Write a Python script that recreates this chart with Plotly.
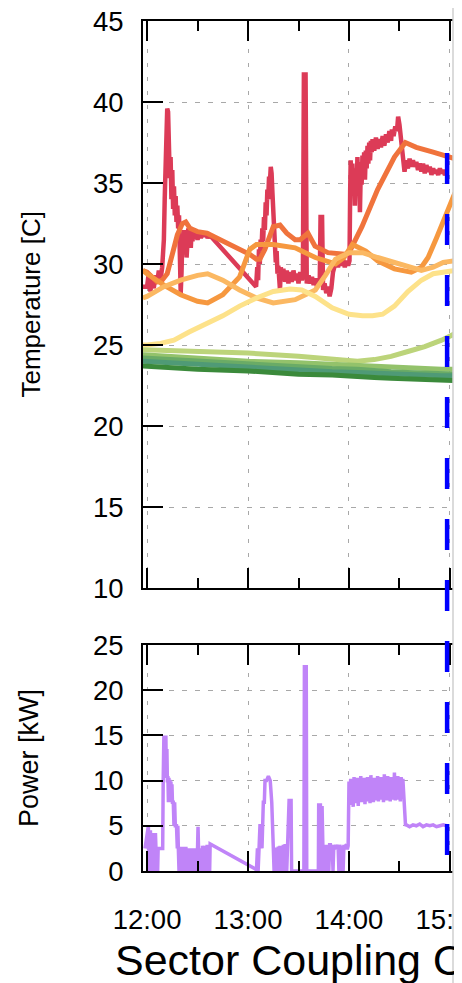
import pandas as pd
import plotly.graph_objects as go

BASE = pd.Timestamp("2021-06-01 12:00:00")

# ---------------- data (minutes after 12:00, values) ----------------
red_min = [-2.5, 0, 1, 2, 3, 4, 5, 6, 7, 8, 9, 10, 10.5, 11, 11.5, 12, 12.5, 13, 13.5, 14, 14.5, 15, 15.5,
           16, 16.5, 17, 17.5, 18, 18.5, 19, 19.5, 20, 20.5, 21, 21.5, 22, 22.5, 23, 23.5, 24, 24.5, 25,
           25.5, 26, 26.5, 27, 27.5, 28, 29, 30, 31, 32, 33, 34, 35, 36, 37, 38, 64.8,
           65.5, 66, 66.5, 67, 67.5, 68, 68.5, 69, 69.5, 70, 70.5, 71, 71.5, 72, 72.5, 73, 73.5, 74, 74.5,
           75, 75.5, 76, 76.5, 77, 77.5, 78, 78.5, 79, 79.5, 80, 81, 82, 83, 84, 85, 86, 87, 88, 89, 90,
           91, 92, 92.6, 93.2, 94.2, 94.9, 96, 97, 98, 99, 100, 101, 102, 102.6, 103.1, 104.0, 104.6, 105.5,
           106.5, 107.5, 108.5, 109.5, 110.5, 111.5, 112.5, 113.5, 114.5, 115.5, 116.5, 117.5, 118.5,
           119.5, 120.3, 120.7, 121, 121.5, 122, 122.5, 123, 123.5, 124, 124.5, 125, 125.5, 126, 126.5,
           127, 127.5, 128, 128.5, 129, 129.5, 130, 130.5, 131, 131.5, 132, 132.5, 133, 133.5, 134, 135,
           136, 137, 138, 139, 140, 141, 142, 143, 144, 145, 145.5, 146.5, 147.5, 148.5, 149.2, 150,
           150.8, 151.5, 152.3, 153, 154, 155, 156, 157, 158, 159, 160, 161, 162, 163, 164, 165, 166,
           167, 168, 169, 170, 171, 172, 173, 174, 175, 176, 177, 178]
red_val = [28.6, 28.6, 29.4, 28.3, 29.1, 28.5, 29.3, 28.8, 29.6, 29.0, 29.8, 31.5, 34.0, 36.8, 38.5, 39.6,
           39.4, 37.2, 35.3, 36.6, 34.0, 35.8, 33.4, 34.8, 33.0, 34.2, 32.6, 33.6, 32.2, 33.0, 30.5, 28.2,
           29.5, 31.8, 30.6, 32.1, 31.0, 31.9, 30.4, 31.6, 32.2, 31.2, 32.3, 31.0, 32.1, 31.4, 32.2, 31.6,
           32.0, 31.5, 31.9, 31.6, 31.9, 31.7, 31.9, 31.6, 31.8, 31.7, 28.6,
           29.8, 29.0, 30.9, 30.0, 31.5, 30.8, 32.2, 31.4, 32.9, 32.1, 33.8, 33.0, 34.6, 34.0, 35.4, 35.0,
           36.0, 35.6, 34.4, 33.2, 32.9, 31.2, 30.1, 30.8, 29.4, 29.9, 28.6, 28.4, 29.8, 29.0, 29.7, 28.9,
           29.6, 28.8, 29.5, 28.9, 29.6, 29.0, 29.4, 28.8, 29.5, 29.0, 29.2, 41.7, 41.7, 28.8, 29.3, 28.8,
           29.2, 28.7, 29.1, 28.6, 29.0, 28.7, 32.9, 32.9, 28.4, 28.8, 28.2, 28.6, 28.0, 28.5, 29.5, 29.9,
           30.3, 29.8, 30.4, 29.9, 30.3, 29.8, 30.2, 29.9, 30.2, 34.5, 36.4, 34.2, 36.2, 34.8, 35.9, 33.6,
           35.7, 34.4, 36.6, 35.0, 36.3, 33.2, 35.8, 34.9, 36.7, 35.5, 36.9, 35.2, 37.0, 35.9, 37.3, 36.2,
           37.5, 36.4, 37.6, 36.9, 37.7, 37.0, 37.8, 37.1, 37.7, 37.2, 37.9, 37.3, 38.0, 37.5, 38.2, 37.6,
           38.3, 37.9, 38.5, 38.2, 39.1, 38.6, 37.7, 37.0, 35.8, 35.7, 36.4, 35.9, 36.5, 36.0, 36.4, 36.0,
           36.3, 35.8, 36.2, 35.7, 36.2, 35.6, 36.1, 35.7, 36.0, 35.5, 35.9, 35.6, 35.8, 35.5, 35.9, 35.6,
           35.8, 35.5, 35.7]

orange_dark_min = [-2.5, 0, 3, 6, 9, 12, 15, 18, 21, 23, 25.5, 30, 35.6, 45, 55, 61, 65, 67, 70, 73, 75, 79,
                   83, 88, 91, 95.6, 99.8, 107.5, 117.6, 120, 127.7, 137, 147, 153.5, 160, 170, 183]
orange_dark_val = [29.6, 29.5, 29.2, 28.9, 29.0, 29.4, 30.6, 31.8, 32.5, 32.6, 32.2, 32.0, 31.9, 31.4, 30.9,
                   30.6, 30.3, 30.3, 30.9, 31.7, 32.3, 32.4, 31.9, 31.5, 31.5, 31.9, 31.1, 30.7, 30.6, 30.7,
                   32.3, 34.6, 36.6, 37.5, 37.2, 36.9, 36.5]

orange_mid_min = [-2.5, 0, 10, 20, 30, 36, 45, 55, 61, 65, 75, 88, 100, 112, 117, 122, 130, 137, 147, 157,
                  163, 167, 172, 177, 183]
orange_mid_val = [29.6, 29.4, 28.7, 28.1, 27.7, 27.6, 28.1, 29.2, 30.9, 31.2, 31.2, 31.0, 30.4, 30.0, 30.4,
                  31.2, 30.8, 30.2, 29.7, 29.5, 29.8, 30.4, 31.6, 32.9, 34.4]

orange_light_min = [-2.5, 0, 10, 20, 30, 36, 45, 55, 65, 75, 88, 100, 106, 112, 120, 128, 137, 147, 155,
                    163, 170, 176, 183]
orange_light_val = [27.9, 28.0, 28.6, 29.0, 29.3, 29.4, 29.0, 28.4, 27.9, 27.6, 27.8, 28.4, 29.3, 30.3, 30.7,
                    30.7, 30.4, 30.1, 29.8, 29.6, 29.8, 30.1, 30.2]

yellow_min = [-2.5, 0, 8, 16, 25, 35, 45, 55, 65, 75, 85, 92, 100, 110, 120, 128, 134, 140, 147, 155, 163,
              170, 177, 183]
yellow_val = [25.0, 25.0, 25.1, 25.3, 25.8, 26.3, 26.8, 27.4, 27.9, 28.3, 28.45, 28.4, 28.0, 27.3, 26.9, 26.8,
              26.8, 26.9, 27.4, 28.3, 29.0, 29.4, 29.55, 29.6]

green_min = [-2.5, 30, 60, 90, 110, 125, 135, 145, 155, 165, 175, 183]
green1_val = [24.7, 24.6, 24.5, 24.3, 24.1, 24.0, 24.1, 24.3, 24.6, 24.9, 25.3, 25.7]
green2_val = [24.4, 24.2, 24.0, 23.9, 23.8, 23.7, 23.65, 23.6, 23.6, 23.55, 23.5, 23.5]
green3_val = [24.2, 24.0, 23.8, 23.6, 23.55, 23.5, 23.4, 23.35, 23.3, 23.25, 23.2, 23.2]
green4_val = [24.0, 23.8, 23.6, 23.4, 23.35, 23.3, 23.25, 23.2, 23.2, 23.15, 23.1, 23.1]
green5_val = [23.7, 23.5, 23.4, 23.2, 23.15, 23.1, 23.0, 22.95, 22.9, 22.85, 22.8, 22.8]

power_min = [-1.2, 0.4, 0.8, 1.0, 1.3, 1.8, 2.0, 2.3, 2.6, 2.9, 3.4, 3.7, 4.0, 4.3, 4.6, 5.0, 5.3, 6.0, 6.3,
             6.6, 7.5, 8.5, 9.3, 9.6, 10.0, 11.2, 11.5, 11.8, 12.1, 12.4, 12.7, 13.0, 13.3, 13.6, 13.9,
             14.2, 14.5, 14.8, 15.1, 15.6, 16.0, 16.4, 16.8, 17.5, 18.0, 18.3, 18.6, 19.0, 19.3, 19.8,
             20.1, 20.4, 21.0, 21.3, 21.6, 22.2, 22.5, 23.1, 23.4, 23.7, 24.3, 24.6, 25.2, 25.5, 26.1,
             26.4, 27.0, 27.3, 27.9, 28.2, 28.8, 29.1, 29.7, 30.0, 30.3, 30.6, 30.9, 31.2, 31.8, 32.1,
             32.7, 33.0, 33.6, 33.9, 34.5, 34.8, 35.4, 35.7, 36.3, 36.6, 37.2, 37.5, 64.6,
             65.0, 65.6, 66.0, 66.6, 67.1, 67.8, 68.3, 69.1, 69.7, 70.1, 71.0, 72.1, 73.2, 74.1, 74.6,
             75.0, 75.5, 76.0, 76.5, 77.0, 77.5, 78.0, 78.5, 79.0, 79.5, 80.0, 80.5, 81.0, 81.5, 82.0,
             82.5, 83.0, 83.5, 84.0, 84.4, 85.6, 85.9, 93.2, 93.5, 94.6, 94.9, 101.8, 102.0, 102.5, 103.0,
             103.5, 104.0, 104.5, 105.0, 105.5, 106.0, 106.5, 107.0, 107.5, 108.0, 108.5, 109.0, 109.5,
             110.0, 110.5, 111.0, 111.5, 112.0, 112.5, 113.0, 113.5, 114.0, 114.5, 115.0, 115.5, 116.0,
             116.5, 117.0, 117.5, 118.0, 118.5, 119.0, 119.5, 120.0]
power_val = [2.5, 5.0, 5.0, 0.0, 2.5, 2.5, 4.5, 2.5, 0.0, 2.5, 2.5, 4.2, 2.5, 0.0, 2.5, 4.2, 2.5, 2.5, 0.0,
             2.5, 2.5, 2.5, 2.5, 10.0, 14.8, 14.8, 10.3, 13.5, 9.8, 10.5, 7.6, 10.3, 7.8, 10.1, 7.6,
             9.9, 7.6, 9.6, 7.6, 7.6, 5.0, 7.6, 5.0, 5.0, 2.5, 5.0, 2.5, 0.0, 2.5, 2.5,
             0.0, 2.5, 2.5, 0.0, 2.5, 0.0, 2.5, 2.5, 0.0, 2.5, 0.0, 2.5, 0.0, 2.5, 0.0,
             2.5, 0.0, 2.5, 0.0, 2.5, 0.0, 2.5, 0.0, 2.5, 4.9, 2.5, 0.0, 2.5, 0.0, 2.5,
             0.0, 2.8, 0.0, 2.8, 0.0, 2.8, 0.0, 2.9, 0.0, 2.9, 0.0, 3.0, 0.2,
             0.0, 2.5, 0.0, 2.5, 5.0, 5.0, 2.5, 7.6, 7.6, 10.0, 10.0, 10.5, 10.0, 7.6, 5.0,
             5.0, 0.0, 2.5, 0.0, 2.6, 0.0, 2.7, 0.0, 2.8, 0.0, 2.8, 0.0, 2.9, 0.0, 2.8,
             2.8, 0.0, 2.9, 2.9, 7.8, 7.8, 0.0, 0.0, 22.6, 22.6, 0.0, 0.0, 7.5, 2.5, 7.5,
             0.0, 7.2, 2.5, 0.0, 2.9, 0.0, 2.9, 0.0, 2.8, 0.0, 2.9, 2.9, 2.4,
             2.9, 0.0, 2.9, 2.5, 2.9, 2.4, 2.8, 2.9, 0.0, 2.9, 2.5, 0.0,
             2.8, 0.0, 2.9, 2.4, 2.8, 2.9, 2.4, 2.8]

# noisy 14:00-14:33 band (upper / lower swings, one pair every minute from 120.5)
band_top = [9.9, 10.2, 10.0, 10.4, 9.8, 10.3, 10.1, 10.5, 10.0, 10.3, 9.9, 10.4, 10.2, 10.6, 10.0, 10.3, 10.1,
            10.5, 10.2, 10.4, 10.0, 10.7, 10.3, 10.5, 10.1, 10.4, 10.2, 10.9, 10.3, 10.5, 10.1, 10.4, 10.2]
band_bot = [7.3, 7.8, 7.1, 7.9, 7.5, 7.2, 7.8, 7.6, 8.0, 7.4, 7.7, 7.9, 7.5, 8.1, 7.6, 7.8, 8.0, 7.7, 8.2,
            7.9, 7.6, 8.0, 7.8, 8.1, 7.7, 7.9, 8.0, 7.8, 8.2, 7.9, 7.7, 8.0, 7.9]
tail_min = [153.1, 153.6, 154.2, 156, 158, 160, 162, 164, 166, 168, 170, 172, 174, 176, 178, 179]
tail_val = [7.6, 6.5, 5.0, 5.1, 4.9, 5.1, 5.0, 5.2, 4.9, 5.1, 5.0, 5.1, 4.9, 5.0, 5.1, 5.0]

marker_min = 178.3  # blue dashed vertical marker

# ---------------- build ----------------
def tt(mins):
    return [BASE + pd.Timedelta(minutes=m) for m in mins]

band_min, band_val = [], []
for i, (a, b) in enumerate(zip(band_top, band_bot)):
    band_min += [120.5 + i, 121.0 + i]
    band_val += [a, b]

p_min = power_min + band_min + tail_min
p_val = power_val + band_val + tail_val

FONT = "Liberation Sans, Arial, sans-serif"
fig = go.Figure()

temps = [
    ("red", "#dc3b57", red_min, red_val, 4.5),
    ("orange_dark", "#f0733c", orange_dark_min, orange_dark_val, 5),
    ("orange_mid", "#f6983f", orange_mid_min, orange_mid_val, 5),
    ("orange_light", "#fbb862", orange_light_min, orange_light_val, 5),
    ("yellow", "#fde28a", yellow_min, yellow_val, 5),
    ("green1", "#bcd47a", green_min, green1_val, 5),
    ("green2", "#93c26b", green_min, green2_val, 5),
    ("green3", "#6aab66", green_min, green3_val, 5),
    ("green4", "#4f9a76", green_min, green4_val, 5),
    ("green5", "#3b8a3b", green_min, green5_val, 5),
]
for name, color, mins, vals, w in temps:
    fig.add_trace(go.Scatter(x=tt(mins), y=vals, mode="lines", name=name,
                             line=dict(color=color, width=w), xaxis="x", yaxis="y"))

fig.add_trace(go.Scatter(x=tt(p_min), y=p_val, mode="lines", name="power",
                         line=dict(color="#c084f8", width=3.5), xaxis="x2", yaxis="y2"))

xr = [BASE + pd.Timedelta(minutes=-2.4), BASE + pd.Timedelta(minutes=181.8)]
GRID = "#a8a8a8"

def xax(**kw):
    d = dict(type="date", range=xr, tick0=BASE, dtick=3600000, tickformat="%H:%M", automargin=False,
             ticks="inside", ticklen=20, tickwidth=2, tickcolor="black",
             showline=True, linecolor="black", linewidth=2, mirror="ticks",
             showgrid=True, gridcolor=GRID, griddash="4px,10px", gridwidth=1.2, zeroline=False,
             minor=dict(dtick=1800000, tick0=BASE, ticks="inside", ticklen=10, tickwidth=2,
                        tickcolor="black", showgrid=False))
    d.update(kw)
    return d

def yax(**kw):
    d = dict(ticks="inside", ticklen=20, tickwidth=2, tickcolor="black", dtick=5, automargin=False,
             showline=True, linecolor="black", linewidth=2, mirror=False,
             showgrid=True, gridcolor=GRID, griddash="5px,8px", gridwidth=1.2, zeroline=False,
             tickfont=dict(family=FONT, size=27.5, color="black"), ticklabelstandoff=12,
             ticklabeloverflow="allow")
    d.update(kw)
    return d

# page has an 8px body margin: figure is 454x975 placed at (8,8)
H = 850.0
fig.update_layout(
    width=454, height=975,
    margin=dict(l=135, r=9, t=13, b=112),
    paper_bgcolor="white", plot_bgcolor="white", showlegend=False,
    font=dict(family=FONT, color="black"),
    xaxis=xax(anchor="y", showticklabels=False),
    xaxis2=xax(anchor="y2", showticklabels=True, tickfont=dict(family=FONT, size=27.5, color="black"),
               ticklabelstandoff=23, ticklabeloverflow="allow"),
    yaxis=yax(domain=[(871 - 588) / H, 1], range=[10, 45]),
    yaxis2=yax(domain=[0, (871 - 645) / H], range=[0, 25]),
)

fig.add_shape(type="line", xref="x", yref="paper",
              x0=BASE + pd.Timedelta(minutes=marker_min), x1=BASE + pd.Timedelta(minutes=marker_min),
              y0=(871 - 153) / H, y1=(871 - 860) / H,
              line=dict(color="#0000ff", width=4.5, dash="31px,30px"), layer="above")
fig.add_shape(type="line", xref="paper", yref="paper", x0=1.0, x1=1.0, y0=-0.2, y1=1.05,
              line=dict(color="#cfcfcf", width=1.5), layer="above")

ann = [
    dict(text="Temperature [C]", x=(30 - 143) / 310, y=(871 - 304.5) / H, textangle=-90,
         font=dict(size=26)),
    dict(text="Power [kW]", x=(29 - 143) / 310, y=(871 - 758) / H, textangle=-90,
         font=dict(size=27)),
    dict(text="Sector Coupling O", x=(113 - 143) / 310, y=(871 - 960) / H, xanchor="left",
         font=dict(size=43)),
    dict(text=" ", x=1.0 + 1 / 310, y=(871 - 491.5) / H, xanchor="left", yanchor="middle",
         width=9, height=983, bgcolor="#ececec", borderpad=0, borderwidth=0),
]
for a in ann:
    base = dict(xref="paper", yref="paper", showarrow=False, xanchor="center", yanchor="middle")
    base.update(a)
    fig.add_annotation(**base)

fig.write_html("out.html")
